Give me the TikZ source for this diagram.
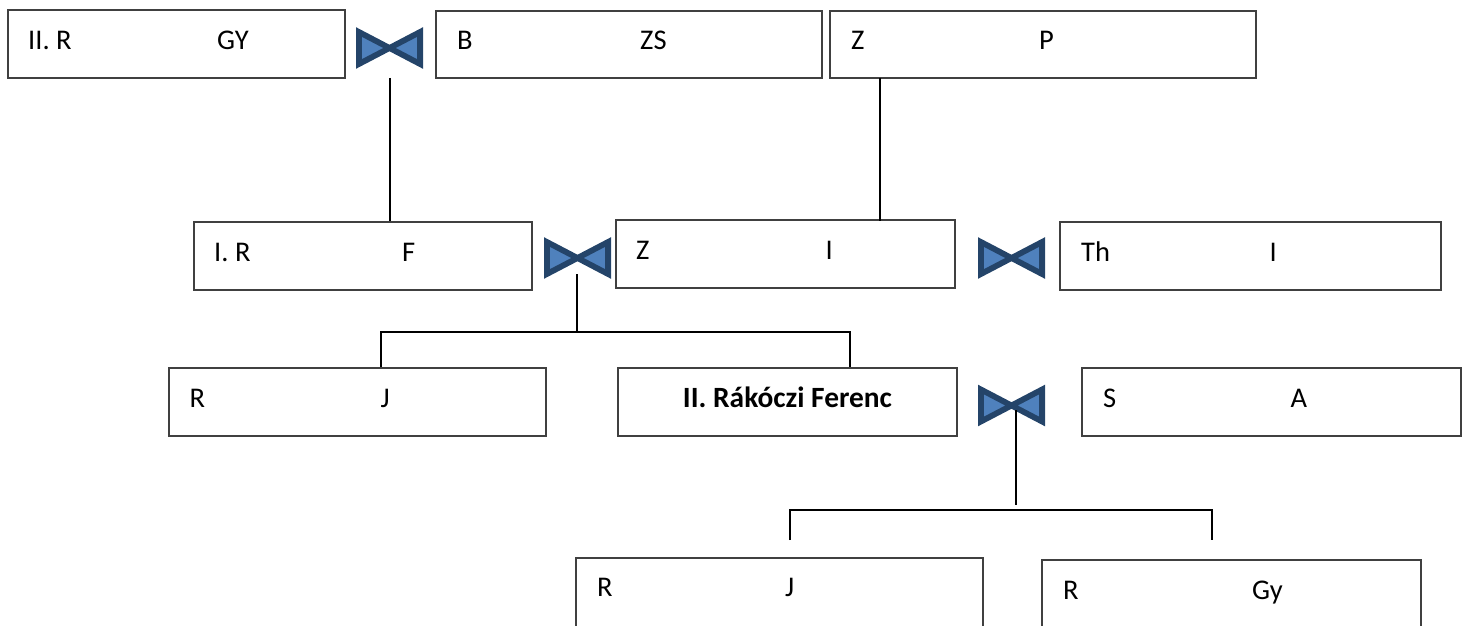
\documentclass[tikz,border=0pt]{standalone}
\usepackage{fontspec}
\setmainfont{Carlito}
\definecolor{tieline}{HTML}{244469}
\definecolor{tiefill}{HTML}{4F81BD}
\definecolor{boxline}{HTML}{404040}
\tikzset{
  famillybox/.style={draw=boxline,line width=1.4pt,inner sep=0pt},
  openbox/.style={draw=boxline,line width=1.4pt},
  boxtext/.style={anchor=base west,inner sep=0pt,font=\fontsize{28.5}{32}\selectfont},
  tie/.style={draw=tieline,fill=tiefill,line width=5.8pt,miter limit=10},
  tieanchor/.style={inner sep=0pt,minimum width=67pt,minimum height=42pt},
  link/.style={draw=black,line width=2pt}
}
\newcommand{\twoparts}[3]{\makebox[#1pt][l]{#2}#3}
\newcommand{\fambox}[5]{\node[famillybox,minimum width=#4pt-#2pt,minimum height=#5pt-#3pt] (#1) at ({(#2+#4)/2},{(#3+#5)/2}) {};}
\newcommand{\tiemark}[3]{\node[tieanchor] (#1) at (#2,#3) {};
  \draw[tie] (#2-30.6,#3-16) -- (#2+30.6,#3+16) -- (#2+30.6,#3-16) -- (#2-30.6,#3+16) -- cycle;}
\begin{document}
\begin{tikzpicture}[x=1pt,y=-1pt]
\useasboundingbox (0,0) rectangle (1470,626);
\fambox{a}{8}{10}{345}{78}
\fambox{b}{436}{11}{822}{78}
\fambox{c}{830}{11}{1256}{78}
\fambox{d}{194}{222}{532}{290}
\fambox{e}{616}{220}{955}{288}
\fambox{f}{1060}{222}{1441}{290}
\fambox{g}{169}{368}{546}{436}
\fambox{h}{618}{368}{957}{436}
\fambox{i}{1082}{368}{1461}{436}
\coordinate (jbl) at (576,627); \coordinate (jtl) at (576,558); \coordinate (jtr) at (983,558); \coordinate (jbr) at (983,627);
\draw[openbox] (jbl) -- (jtl) -- (jtr) -- (jbr);
\coordinate (kbl) at (1042,627); \coordinate (ktl) at (1042,560); \coordinate (ktr) at (1421,560); \coordinate (kbr) at (1421,627);
\draw[openbox] (kbl) -- (ktl) -- (ktr) -- (kbr);
\node[boxtext] (ta) at (28,49.5) {\twoparts{189}{II. R}{GY}};
\node[boxtext] (tb) at (457,49.5) {\twoparts{183}{B}{ZS}};
\node[boxtext] (tc) at (851,49.5) {\twoparts{188}{Z}{P}};
\node[boxtext] (td) at (214,261.5) {\twoparts{188}{I. R}{F}};
\node[boxtext] (te) at (636,259.5) {\twoparts{189.5}{Z}{I}};
\node[boxtext] (tf) at (1081,261.5) {\twoparts{188.5}{Th}{I}};
\node[boxtext] (tg) at (189.5,407.5) {\twoparts{191}{R}{J}};
\node[boxtext,anchor=base,font=\fontsize{29.4}{32}\selectfont\bfseries] (th) at (787.5,407) {II. Rákóczi Ferenc};
\node[boxtext] (ti) at (1103,407.5) {\twoparts{187.5}{S}{A}};
\node[boxtext] (tj) at (597,596.5) {\twoparts{188}{R}{J}};
\node[boxtext] (tk) at (1063,599.5) {\twoparts{189}{R}{Gy}};
\tiemark{t1}{389.5}{48}
\tiemark{t2}{577.5}{258}
\tiemark{t3}{1011.5}{258}
\tiemark{t4}{1011.5}{405.5}
\coordinate (t1b) at (389.5,78);
\draw[link] (t1b) -- (t1b |- d.north);
\coordinate (cb) at (880,78);
\coordinate (ct) at (880,221);
\draw[link] (cb) -- (ct);
\coordinate (s1) at (576.5,274);
\coordinate (s1m) at (576.5,332);
\coordinate (s1l) at (381,332);
\coordinate (s1r) at (850,332);
\draw[link] (s1) -- (s1m);
\draw[link] (s1l |- g.north) -- (s1l) -- (s1r) -- (s1r |- h.north);
\coordinate (s2) at (1016,410);
\coordinate (s2m) at (1016,505);
\coordinate (s2l) at (790,510);
\coordinate (s2r) at (1212,510);
\coordinate (s2le) at (790,540);
\coordinate (s2re) at (1212,540);
\draw[link] (s2) -- (s2m);
\draw[link] (s2le) -- (s2l) -- (s2r) -- (s2re);
\end{tikzpicture}
\end{document}
